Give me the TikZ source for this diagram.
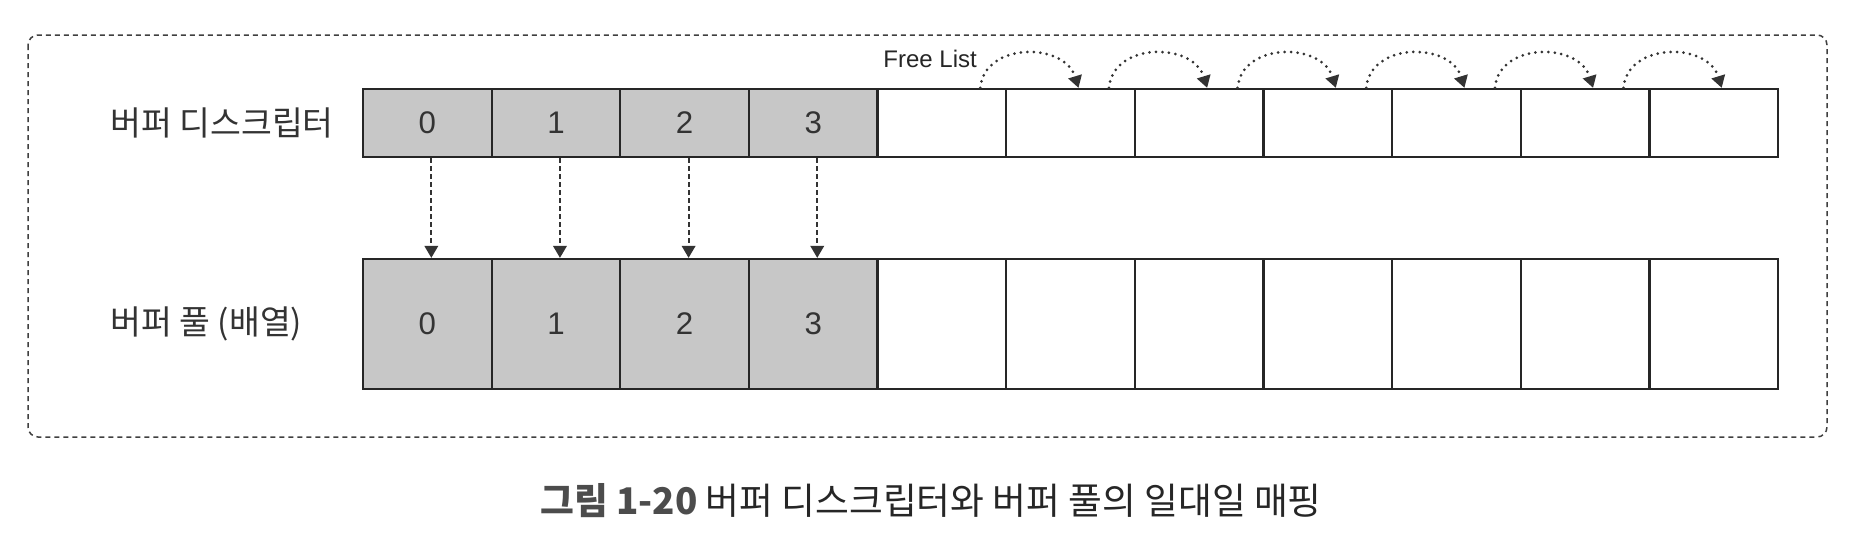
\documentclass[tikz,border=0pt]{standalone}
\usepackage{fontspec}
\setmainfont{Noto Sans CJK KR}
\newfontfamily\numfont{Liberation Sans}
\usetikzlibrary{calc,arrows.meta}

\begin{document}
\begin{tikzpicture}[x=0.4pt, y=-0.4pt,
    cell/.style={draw=black!85, line width=0.9pt, minimum width=51.46pt, inner sep=0pt,
      font=\numfont\fontsize{12.5}{14}\selectfont, text=black!80},
    used/.style={cell, fill=black!22},
    desc/.style={minimum height=27.2pt},
    pool/.style={minimum height=52pt},
    rowname/.style={anchor=west, inner sep=0pt, font=\fontsize{13.4}{15}\selectfont, text=black!80},
    map/.style={draw=black!80, line width=0.8pt, dash pattern=on 2pt off 1.2pt,
      -{Triangle[length=4.8pt,width=5.4pt]}},
    link/.style={draw=black!80, line width=1.2pt, dash pattern=on 0pt off 2.6pt, line cap=round,
      -{Triangle[length=4.8pt,width=5.4pt]}}]
    \useasboundingbox (0,0) rectangle (1862,534);
    \fill[white] (0,0) rectangle (1862,534);
    \coordinate (FrameMin) at (28,35);
    \coordinate (FrameMax) at (1827,437);
    \draw[draw=black!75, line width=0.6pt, dash pattern=on 2pt off 1.6pt, rounded corners=4pt]
      (FrameMin) rectangle (FrameMax);% Dashed outer frame

    \node[rowname] (DescName) at (110,123) {버퍼 디스크립터};
    \node[rowname] (PoolName) at (110,324) {버퍼 풀 (배열)};

    \foreach \i in {0,...,3}{% cells already in use
      \node[used,desc] (Desc\i) at ({363+128.64*(\i+0.5)},123) {\i};
      \node[used,pool] (Pool\i) at ({363+128.64*(\i+0.5)},324) {\i};
      \draw[map] ($(Desc\i.south)+(4,0)$) -- ($(Pool\i.north)+(4,0)$);
    }
    \foreach \i in {4,...,10}{% free cells
      \node[cell,desc] (Desc\i) at ({363+128.64*(\i+0.5)},123) {};
      \node[cell,pool] (Pool\i) at ({363+128.64*(\i+0.5)},324) {};
    }

    \foreach \i [count=\j from 5] in {4,...,9}{% free list links
      \coordinate (FreeFrom\i) at ($(Desc\i.north east)+(-27,0)$);
      \coordinate (FreeTo\i) at ($(Desc\j.north)+(8,0)$);
      \draw[link] (FreeFrom\i) .. controls +(4,-46) and +(-14,-46) .. (FreeTo\i);
    }
    \node[anchor=base east, inner sep=0pt, font=\numfont\fontsize{9.6}{11}\selectfont, text=black!85]
      (FreeList) at ($(FreeFrom4)+(-3,-20)$) {Free List};

    \node[text=black!85, font=\fontsize{14.7}{17}\selectfont] (Caption) at (931,501)
      {{\bfseries\color{black!70}그림 1-20} 버퍼 디스크립터와 버퍼 풀의 일대일 매핑};
\end{tikzpicture}
\end{document}
